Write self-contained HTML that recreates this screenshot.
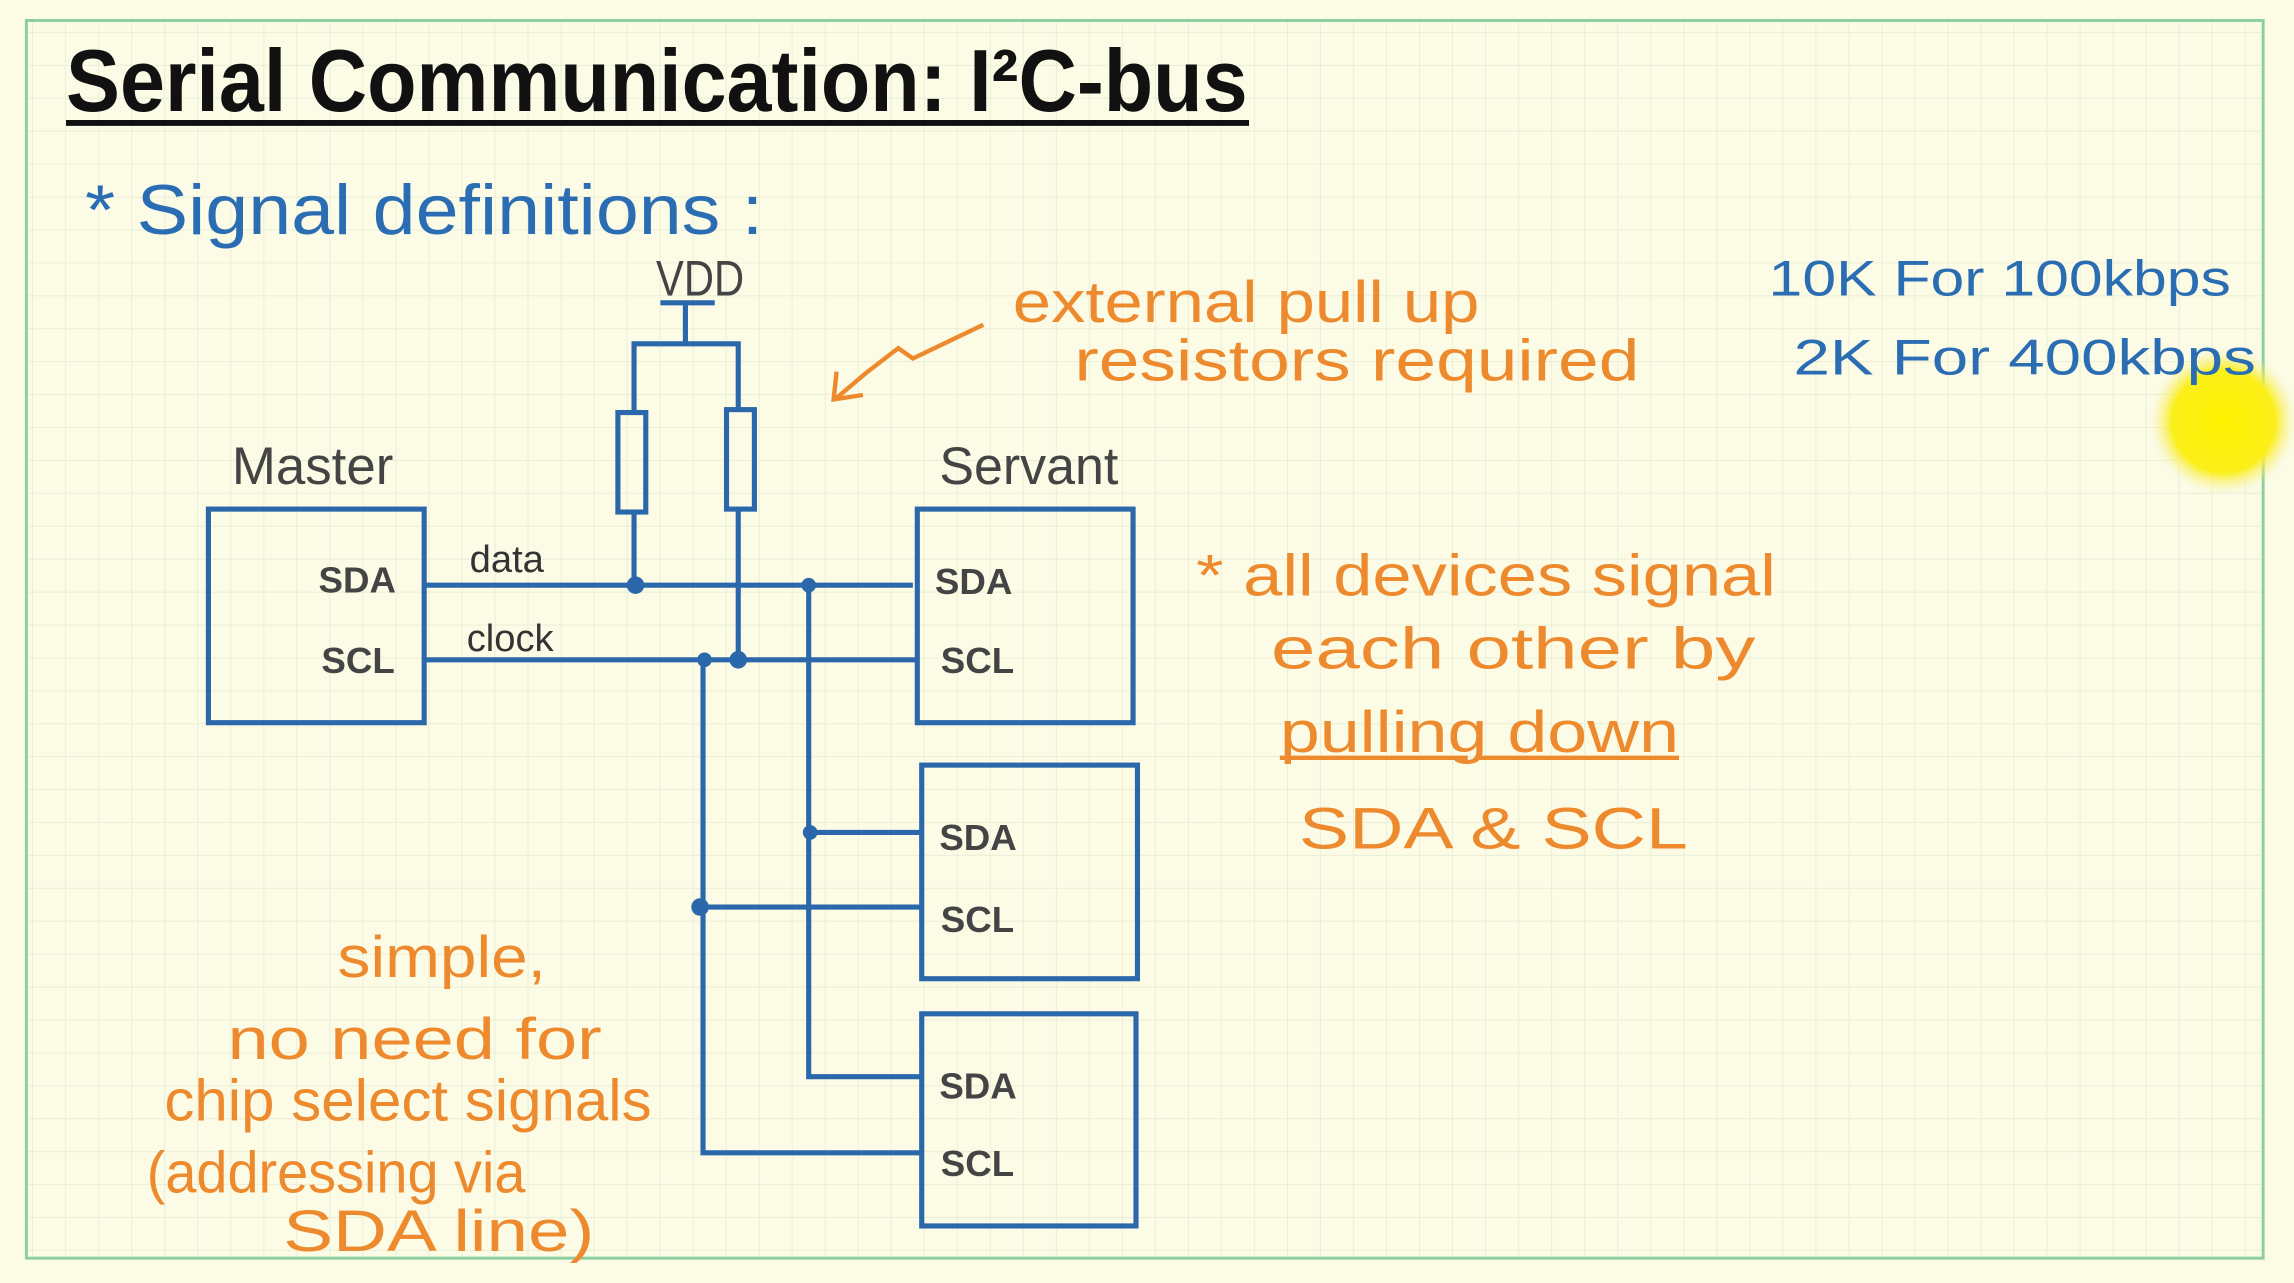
<!DOCTYPE html>
<html><head><meta charset="utf-8"><style>
html,body{margin:0;padding:0;background:#fbfbe6;}
svg{display:block}
text{font-family:"Liberation Sans",sans-serif;}
</style></head><body>
<svg width="2294" height="1283" viewBox="0 0 1563 877" preserveAspectRatio="none" xmlns="http://www.w3.org/2000/svg">
<defs>
<pattern id="g" width="22.5" height="22.5" patternUnits="userSpaceOnUse">
<path d="M22.5 0V22.5M0 22.5H22.5" stroke="#e6ead2" stroke-width="1" fill="none"/>
</pattern>
<radialGradient id="y"><stop offset="0" stop-color="#fff200"/><stop offset="0.7" stop-color="#fbef1a"/><stop offset="1" stop-color="#f6f0a0" stop-opacity="0"/></radialGradient>
</defs>
<rect width="1563" height="877" fill="#fbfbe6"/>
<rect x="18" y="14" width="1524" height="846" fill="url(#g)" stroke="#8ccf9e" stroke-width="2"/>
<circle cx="1515" cy="288" r="50" fill="url(#y)"/>
<text x="45" y="76" font-size="60" font-weight="bold" fill="#111" textLength="805" lengthAdjust="spacingAndGlyphs">Serial Communication: I²C-bus</text>
<line x1="45" y1="84" x2="851" y2="84" stroke="#111" stroke-width="4"/>
<text x="58" y="160" font-size="48" fill="#2b6db3" textLength="462" lengthAdjust="spacingAndGlyphs">* Signal definitions :</text>
<text x="447" y="202" font-size="34" fill="#444" textLength="60" lengthAdjust="spacingAndGlyphs">VDD</text>
<g stroke="#2b68ab" stroke-width="3.5" fill="none">
<line x1="450" y1="207" x2="487" y2="207"/>
<line x1="467" y1="207" x2="467" y2="235"/>
<polyline points="432,282 432,235 503,235 503,280"/>
<rect x="421" y="282" width="19" height="68"/>
<rect x="495" y="280" width="19" height="68"/>
<line x1="432" y1="350" x2="432" y2="400"/>
<line x1="503" y1="348" x2="503" y2="451"/>
<rect x="142" y="348" width="147" height="146"/>
<rect x="625" y="348" width="147" height="146"/>
<rect x="628" y="523" width="147" height="146"/>
<rect x="628" y="693" width="146" height="145"/>
<line x1="289" y1="400" x2="622" y2="400"/>
<line x1="289" y1="451" x2="625" y2="451"/>
<polyline points="551,400 551,736 628,736"/>
<line x1="551" y1="569" x2="628" y2="569"/>
<polyline points="479,451 479,788 628,788"/>
<line x1="479" y1="620" x2="628" y2="620"/>
</g>
<g fill="#2b68ab">
<circle cx="433" cy="400" r="6"/><circle cx="551" cy="400" r="5"/>
<circle cx="480" cy="451" r="5"/><circle cx="503" cy="451" r="6"/>
<circle cx="552" cy="569" r="5"/><circle cx="477" cy="620" r="6"/>
</g>
<g fill="#444" font-size="36">
<text x="158" y="331" textLength="110" lengthAdjust="spacingAndGlyphs">Master</text>
<text x="640" y="331" textLength="122" lengthAdjust="spacingAndGlyphs">Servant</text>
</g>
<g fill="#444" font-size="25" font-weight="bold">
<text x="217" y="405">SDA</text><text x="219" y="460">SCL</text>
<text x="637" y="406">SDA</text><text x="641" y="460">SCL</text>
<text x="640" y="581">SDA</text><text x="641" y="637">SCL</text>
<text x="640" y="751">SDA</text><text x="641" y="804">SCL</text>
</g>
<g fill="#333" font-size="26">
<text x="320" y="391">data</text><text x="318" y="445">clock</text>
</g>
<g fill="#ee8a2e" font-size="40">
<text x="690" y="220" textLength="318" lengthAdjust="spacingAndGlyphs">external pull up</text>
<text x="732" y="260" textLength="385" lengthAdjust="spacingAndGlyphs">resistors required</text>
<text x="815" y="407" textLength="395" lengthAdjust="spacingAndGlyphs">* all devices signal</text>
<text x="866" y="457" textLength="330" lengthAdjust="spacingAndGlyphs">each other by</text>
<text x="872" y="514" textLength="272" lengthAdjust="spacingAndGlyphs">pulling down</text>
<text x="885" y="580" textLength="265" lengthAdjust="spacingAndGlyphs">SDA &amp; SCL</text>
<text x="230" y="668" textLength="142" lengthAdjust="spacingAndGlyphs">simple,</text>
<text x="155" y="724" textLength="255" lengthAdjust="spacingAndGlyphs">no need for</text>
<text x="112" y="766" textLength="332" lengthAdjust="spacingAndGlyphs">chip select signals</text>
<text x="100" y="815" textLength="258" lengthAdjust="spacingAndGlyphs">(addressing via</text>
<text x="193" y="855" textLength="212" lengthAdjust="spacingAndGlyphs">SDA line)</text>
</g>
<g stroke="#ee8a2e" stroke-width="3" fill="none">
<line x1="872" y1="518" x2="1000" y2="518"/>
<line x1="1008" y1="518" x2="1144" y2="518"/>
<path d="M670,222 L622,245 L612,238 L590,255 L570,272"/>
<path d="M570,254 L568,273 L588,270"/>
</g>
<g fill="#2b6db3" font-size="34">
<text x="1205" y="202" textLength="315" lengthAdjust="spacingAndGlyphs">10K For 100kbps</text>
<text x="1222" y="256" textLength="315" lengthAdjust="spacingAndGlyphs">2K For 400kbps</text>
</g>
</svg>
</body></html>
